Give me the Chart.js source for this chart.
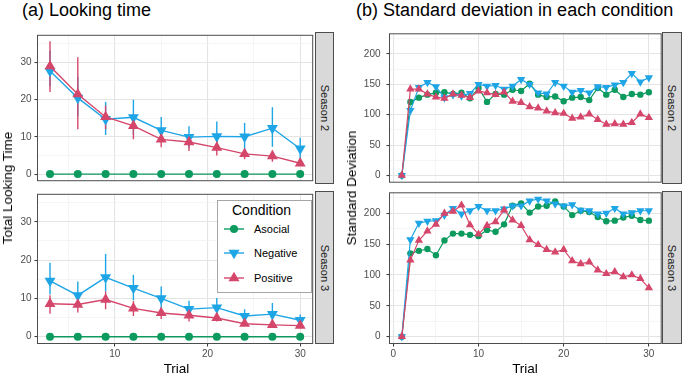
<!DOCTYPE html>
<html>
<head>
<meta charset="utf-8">
<script src="https://cdn.jsdelivr.net/npm/chart.js@4.4.1/dist/chart.umd.min.js"></script>
<style>
  html, body { margin: 0; padding: 0; background: #fff; }
  #fig { position: relative; width: 685px; height: 376px; overflow: hidden;
         font-family: "Liberation Sans", Arial, sans-serif; color: #000; }
  #fig canvas { position: absolute; }
  .title { position: absolute; top: 0; font-size: 18px; line-height: 20px; white-space: nowrap; }
  .axis-title { position: absolute; font-size: 13.5px; line-height: 16px; white-space: nowrap;
                transform: translate(-50%, -50%); }
  .axis-title.vertical { transform: translate(-50%, -50%) rotate(-90deg); }
  .strip { position: absolute; box-sizing: border-box; background: #d9d9d9; border: 1px solid #4d4d4d; }
  .strip span { position: absolute; left: 50%; top: 50%; font-size: 11px; color: #1a1a1a; white-space: nowrap;
                transform: translate(-50%, -50%) rotate(90deg); }
  #legend { position: absolute; left: 217px; top: 200px; width: 95px; height: 93px; box-sizing: border-box;
            border: 1px solid #a6a6a6; background: #fff; }
  #legend .lg-title { position: absolute; left: 14px; top: 0; font-size: 14px; line-height: 19px; }
  #legend .lg-row { position: absolute; left: 6px; height: 14px; }
  #legend .lg-row svg { position: absolute; left: 0; top: 0; }
  #legend .lg-row span { position: absolute; left: 30px; top: 0; font-size: 11px; line-height: 14px; white-space: nowrap; }
</style>
</head>
<body>
<div id="fig">
  <div class="title" style="left:22px">(a) Looking time</div>
  <div class="title" style="left:356px">(b) Standard deviation in each condition</div>

  <canvas id="lookS2" width="319" height="158" style="left:0;top:29px"></canvas>
  <canvas id="lookS3" width="319" height="188" style="left:0;top:188px"></canvas>
  <canvas id="sdS2" width="326" height="158" style="left:340px;top:29px"></canvas>
  <canvas id="sdS3" width="326" height="188" style="left:340px;top:188px"></canvas>

  <div class="strip" style="left:315px;top:32px;width:19px;height:152px"><span>Season 2</span></div>
  <div class="strip" style="left:315px;top:191px;width:19px;height:153px"><span>Season 3</span></div>
  <div class="strip" style="left:662px;top:32px;width:20px;height:152px"><span>Season 2</span></div>
  <div class="strip" style="left:662px;top:191px;width:20px;height:153px"><span>Season 3</span></div>

  <div class="axis-title vertical" style="left:8px;top:187.5px">Total Looking Time</div>
  <div class="axis-title vertical" style="left:352px;top:187.5px">Standard Deviation</div>
  <div class="axis-title" style="left:176.5px;top:368.5px">Trial</div>
  <div class="axis-title" style="left:525px;top:368.5px">Trial</div>

  <div id="legend"><div class="lg-title">Condition</div></div>
</div>

<script>
/* ── Données : (a) temps de regard, un point tous les 3 essais ─────── */
const LOOK_TRIALS = [3, 6, 9, 12, 15, 18, 21, 24, 27, 30];

const LOOK_S2_ASOCIAL = [0, 0, 0, 0, 0, 0, 0, 0, 0, 0];
const LOOK_S2_NEG     = [27.6, 20.4, 14.7, 15.2, 11.7, 9.9, 10.1, 10.0, 12.3, 6.8];
const LOOK_S2_NEG_LO  = [23.5, 15.5, 10.5, 10.5, 8.5, 7.0, 6.5, 6.3, 7.3, 4.0];
const LOOK_S2_NEG_HI  = [33.0, 26.0, 19.3, 19.9, 15.3, 12.8, 14.1, 13.7, 17.9, 9.7];
const LOOK_S2_POS     = [28.9, 21.4, 15.3, 12.9, 9.3, 8.6, 7.1, 5.4, 4.8, 2.9];
const LOOK_S2_POS_LO  = [22.0, 12.0, 12.0, 9.3, 7.2, 6.2, 5.0, 4.0, 3.3, 2.2];
const LOOK_S2_POS_HI  = [35.6, 31.3, 18.4, 16.0, 11.5, 10.2, 9.0, 6.8, 6.3, 3.6];

const LOOK_S3_ASOCIAL = [0, 0, 0, 0, 0, 0, 0, 0, 0, 0];
const LOOK_S3_NEG     = [14.6, 10.8, 15.5, 12.7, 10.0, 7.2, 7.6, 5.4, 5.9, 4.3];
const LOOK_S3_NEG_LO  = [11.0, 8.0, 11.8, 9.5, 7.5, 5.8, 5.5, 4.3, 4.0, 3.2];
const LOOK_S3_NEG_HI  = [19.3, 14.4, 21.6, 16.2, 13.1, 9.4, 10.1, 7.2, 8.8, 5.8];
const LOOK_S3_POS     = [8.6, 8.4, 9.7, 7.4, 6.2, 5.6, 4.9, 3.4, 3.1, 2.9];
const LOOK_S3_POS_LO  = [6.0, 6.3, 7.2, 5.4, 4.6, 4.0, 4.0, 2.8, 2.3, 2.2];
const LOOK_S3_POS_HI  = [10.8, 10.5, 11.8, 9.3, 7.6, 7.0, 6.0, 4.2, 4.0, 3.8];

/* ── Données : (b) écart-type, tous les essais ─────────────────────── */
const SD_TRIALS = [1, 2, 3, 4, 5, 6, 7, 8, 9, 10, 11, 12, 13, 14, 15,
                   16, 17, 18, 19, 20, 21, 22, 23, 24, 25, 26, 27, 28, 29, 30];

const SD_S2_ASOCIAL = [0, 121, 128, 133, 136, 137, 134, 136, 127, 144, 121, 134, 133, 141, 139,
                       151, 133, 129, 130, 122, 128, 129, 124, 144, 133, 141, 129, 134, 133, 137];
const SD_S2_NEG     = [0, 107, 145, 153, 146, 128, 133, 131, 135, 150, 147, 148, 142, 147, 158,
                       150, 136, 134, 153, 147, 137, 140, 136, 146, 145, 149, 153, 168, 154, 161];
const SD_S2_POS     = [0, 142, 142, 134, 129, 127, 134, 132, 128, 139, 136, 133, 137, 122, 120,
                       113, 111, 106, 103, 102, 94, 96, 101, 92, 84, 85, 84, 87, 101, 95];

const SD_S3_ASOCIAL = [0, 135, 139, 142, 132, 156, 167, 167, 165, 163, 173, 170, 182, 212, 216,
                       201, 211, 212, 219, 211, 197, 204, 202, 194, 187, 188, 193, 196, 189, 188];
const SD_S3_NEG     = [0, 157, 184, 187, 188, 197, 208, 199, 204, 211, 204, 204, 207, 212, 212,
                       220, 223, 220, 215, 212, 214, 205, 204, 199, 200, 208, 199, 201, 204, 204];
const SD_S3_POS     = [0, 124, 156, 171, 182, 200, 203, 213, 181, 166, 180, 186, 205, 189, 180,
                       157, 149, 141, 137, 141, 123, 118, 121, 108, 102, 105, 97, 100, 94, 79];

/* ── Axes ───────────────────────────────────────────────────────────── */
const LOOK_X_MAJOR = [10, 20, 30];
const LOOK_X_MINOR = [5, 15, 25];
const LOOK_Y_MAJOR = [0, 10, 20, 30];
const LOOK_Y_MINOR = [5, 15, 25, 35];
const SD_X_MAJOR = [0, 10, 20, 30];
const SD_X_MINOR = [5, 15, 25];
const SD_Y_MAJOR = [0, 50, 100, 150, 200];
const SD_Y_MINOR = [25, 75, 125, 175, 225];

const LEGEND_LABELS = ['Asocial', 'Negative', 'Positive'];

/* ── Charte ─────────────────────────────────────────────────────────── */
const COLORS = { asocial: '#0c9a5e', negative: '#1ea5e6', positive: '#d5466b' };
const GRID = { major: '#e4e4e4', minor: '#f1f1f1', tick: '#333333', border: '#4d4d4d', label: '#4d4d4d' };

const STYLE = {
    asocial:  { color: COLORS.asocial,  pointStyle: 'circle',   rotation: 0,   order: 3 },
    negative: { color: COLORS.negative, pointStyle: 'triangle', rotation: 180, order: 2 },
    positive: { color: COLORS.positive, pointStyle: 'triangle', rotation: 0,   order: 1 },
};

const SIZE_LOOK = { line: 1.4, circle: 4, triangle: 6.3 };
const SIZE_SD = { line: 1.2, circle: 3.2, triangle: 4.8 };

Chart.defaults.font.family = '"Liberation Sans", Arial, sans-serif';

/* ── Plugins ────────────────────────────────────────────────────────── */
const errorBars = {
    id: 'errorBars',
    beforeDatasetsDraw(chart) {
        const { ctx, chartArea: a, scales: { x, y } } = chart;
        ctx.save();
        ctx.beginPath();
        ctx.rect(a.left, a.top, a.right - a.left, a.bottom - a.top);
        ctx.clip();
        [...chart.data.datasets]
            .sort((d1, d2) => d2.order - d1.order)
            .forEach(ds => {
                if (!ds.errLo) return;
                ctx.strokeStyle = ds.borderColor;
                ctx.lineWidth = 1.4;
                ds.data.forEach((p, i) => {
                    const px = x.getPixelForValue(p.x);
                    ctx.beginPath();
                    ctx.moveTo(px, y.getPixelForValue(ds.errLo[i]));
                    ctx.lineTo(px, y.getPixelForValue(ds.errHi[i]));
                    ctx.stroke();
                });
            });
        ctx.restore();
    },
};

const panelBorder = {
    id: 'panelBorder',
    afterDraw(chart) {
        const { ctx, chartArea: a } = chart;
        ctx.save();
        ctx.strokeStyle = GRID.border;
        ctx.lineWidth = 1;
        ctx.strokeRect(a.left, a.top, a.right - a.left, a.bottom - a.top);
        ctx.restore();
    },
};

/* ── Helpers ────────────────────────────────────────────────────────── */
function dataset(kind, xs, ys, size, lo, hi) {
    const s = STYLE[kind];
    return {
        data: xs.map((x, i) => ({ x, y: ys[i] })),
        borderColor: s.color,
        backgroundColor: s.color,
        borderWidth: size.line,
        pointStyle: s.pointStyle,
        pointRotation: s.rotation,
        pointRadius: kind === 'asocial' ? size.circle : size.triangle,
        pointBorderWidth: 0,
        pointBackgroundColor: s.color,
        tension: 0,
        order: s.order,
        errLo: lo || null,
        errHi: hi || null,
    };
}

function axis({ min, max, major, minor, show, size, pad, vertical }) {
    const isMajor = ctx => ctx.tick && major.includes(ctx.tick.value);
    const all = [...major, ...minor].sort((a, b) => a - b);
    return {
        type: 'linear',
        min, max,
        afterBuildTicks: s => { s.ticks = all.map(v => ({ value: v })); },
        afterFit: s => {
            if (vertical) { s.width = size; s.paddingTop = 0; s.paddingBottom = 0; }
            else { s.height = size; s.paddingLeft = 0; s.paddingRight = 0; }
        },
        border: { display: false },
        grid: {
            color: ctx => isMajor(ctx) ? GRID.major : GRID.minor,
            lineWidth: ctx => isMajor(ctx) ? 1.1 : 0.7,
            drawTicks: show,
            tickLength: 3,
            tickWidth: 1,
            tickColor: ctx => isMajor(ctx) ? GRID.tick : 'rgba(0,0,0,0)',
        },
        ticks: {
            display: show,
            autoSkip: false,
            maxRotation: 0,
            padding: pad,
            color: GRID.label,
            font: { size: 10 },
            callback: v => major.includes(v) ? String(v) : '',
        },
    };
}

function panel(id, { datasets, x, y, showX }) {
    return new Chart(document.getElementById(id), {
        type: 'line',
        data: { datasets },
        options: {
            responsive: false,
            animation: false,
            events: [],
            layout: { padding: { left: 0, right: 3.5, top: 3.5, bottom: showX ? 0 : 3.5 } },
            plugins: { legend: { display: false }, tooltip: { enabled: false } },
            scales: {
                x: axis({ ...x, show: showX, size: showX ? 32.5 : 0, pad: 2 }),
                y: axis({ ...y, show: true, vertical: true }),
            },
        },
        plugins: [errorBars, panelBorder],
    });
}

/* ── (a) Looking time ───────────────────────────────────────────────── */
const LOOK_X = { min: 1.65, max: 31.35, major: LOOK_X_MAJOR, minor: LOOK_X_MINOR };
const LOOK_Y = { min: -1.77, max: 37.17, major: LOOK_Y_MAJOR, minor: LOOK_Y_MINOR, size: 37.5, pad: 3 };

panel('lookS2', {
    showX: false, x: LOOK_X, y: LOOK_Y,
    datasets: [
        dataset('asocial', LOOK_TRIALS, LOOK_S2_ASOCIAL, SIZE_LOOK),
        dataset('negative', LOOK_TRIALS, LOOK_S2_NEG, SIZE_LOOK, LOOK_S2_NEG_LO, LOOK_S2_NEG_HI),
        dataset('positive', LOOK_TRIALS, LOOK_S2_POS, SIZE_LOOK, LOOK_S2_POS_LO, LOOK_S2_POS_HI),
    ],
});

panel('lookS3', {
    showX: true, x: LOOK_X, y: LOOK_Y,
    datasets: [
        dataset('asocial', LOOK_TRIALS, LOOK_S3_ASOCIAL, SIZE_LOOK),
        dataset('negative', LOOK_TRIALS, LOOK_S3_NEG, SIZE_LOOK, LOOK_S3_NEG_LO, LOOK_S3_NEG_HI),
        dataset('positive', LOOK_TRIALS, LOOK_S3_POS, SIZE_LOOK, LOOK_S3_POS_LO, LOOK_S3_POS_HI),
    ],
});

/* ── (b) Standard deviation ─────────────────────────────────────────── */
const SD_X = { min: -0.45, max: 31.45, major: SD_X_MAJOR, minor: SD_X_MINOR };
const SD_Y = { min: -11.1, max: 233.1, major: SD_Y_MAJOR, minor: SD_Y_MINOR, size: 49.5, pad: 6 };

panel('sdS2', {
    showX: false, x: SD_X, y: SD_Y,
    datasets: [
        dataset('asocial', SD_TRIALS, SD_S2_ASOCIAL, SIZE_SD),
        dataset('negative', SD_TRIALS, SD_S2_NEG, SIZE_SD),
        dataset('positive', SD_TRIALS, SD_S2_POS, SIZE_SD),
    ],
});

panel('sdS3', {
    showX: true, x: SD_X, y: SD_Y,
    datasets: [
        dataset('asocial', SD_TRIALS, SD_S3_ASOCIAL, SIZE_SD),
        dataset('negative', SD_TRIALS, SD_S3_NEG, SIZE_SD),
        dataset('positive', SD_TRIALS, SD_S3_POS, SIZE_SD),
    ],
});

/* ── Légende ────────────────────────────────────────────────────────── */
function keySvg(kind) {
    const c = STYLE[kind].color;
    let mark;
    if (kind === 'asocial') mark = `<circle cx="10" cy="7" r="4" fill="${c}"/>`;
    else if (kind === 'negative') mark = `<polygon points="10,13.3 4.5,3.8 15.5,3.8" fill="${c}"/>`;
    else mark = `<polygon points="10,0.7 4.5,10.2 15.5,10.2" fill="${c}"/>`;
    return `<svg width="20" height="14"><line x1="0" y1="7" x2="20" y2="7" stroke="${c}" stroke-width="1.4"/>${mark}</svg>`;
}

const legend = document.getElementById('legend');
['asocial', 'negative', 'positive'].forEach((kind, i) => {
    const row = document.createElement('div');
    row.className = 'lg-row';
    row.style.top = [21.3, 45.3, 70.3][i] + 'px';
    row.innerHTML = keySvg(kind) + `<span>${LEGEND_LABELS[i]}</span>`;
    legend.appendChild(row);
});
</script>
</body>
</html>
